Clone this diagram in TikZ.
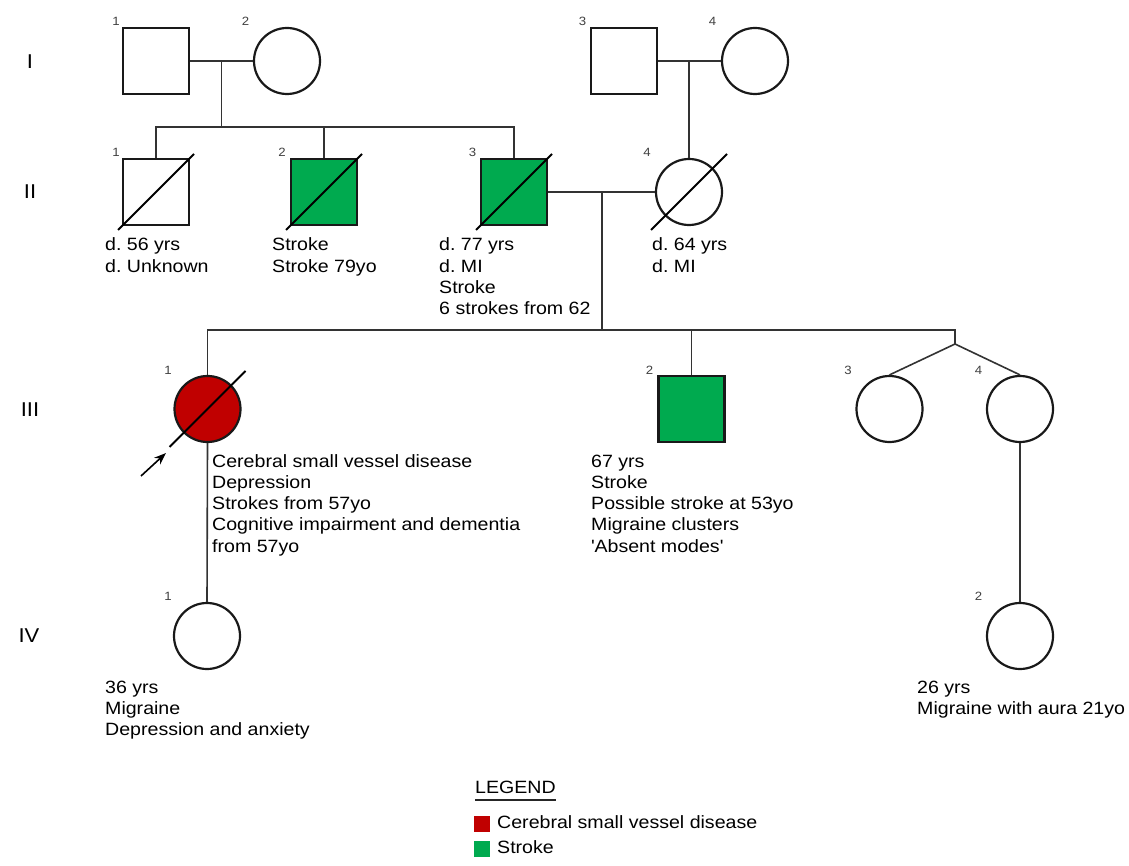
\documentclass[tikz,border=0pt]{standalone}
\usepackage{fontspec}
\setmainfont{Liberation Sans}[FakeStretch=1.1]
\usetikzlibrary{arrows.meta}
\definecolor{affgreen}{RGB}{0,170,79}
\definecolor{affred}{RGB}{192,0,0}
\newcommand\lbl[1]{\begin{tabular}[t]{@{}l@{}}#1\end{tabular}}
\frenchspacing
\begin{document}
\begin{tikzpicture}[x=1pt,y=-1pt,
  male/.style={draw=black!90, line width=2.2pt, rectangle, minimum size=66pt, inner sep=0pt},
  female/.style={draw=black!90, line width=2.2pt, circle, minimum size=66pt, inner sep=0pt},
  affstroke/.style={fill=affgreen},
  affcsvd/.style={fill=affred},
  link/.style={draw=black!80, line width=1.6pt},
  slash/.style={draw=black, line width=2pt},
  num/.style={font=\fontsize{12}{12}\selectfont, text=black!75, inner sep=0pt},
  gen/.style={font=\fontsize{20}{20}\selectfont, inner sep=0pt},
  info/.style={anchor=base west, inner sep=0pt, font=\fontsize{17.8}{21.3}\selectfont},
  legbox/.style={minimum size=16pt, inner sep=0pt, anchor=north west},
]
\fill[white] (0,0) rectangle (1129,866);
\useasboundingbox (0,0) rectangle (1129,866);

% generation labels
\node[gen] (gI) at (30,62) {I};
\node[gen] (gII) at (30,192) {II};
\node[gen] (gIII) at (30,410) {III};
\node[gen] (gIV) at (29,636) {IV};

% generation I
\node[male] (I1) at (156,61) {};
\node[female] (I2) at (287,61) {};
\node[male] (I3) at (624,61) {};
\node[female] (I4) at (755,61) {};
\node[num] (nI1) at (116,21.5) {1};
\node[num] (nI2) at (245.5,21.5) {2};
\node[num] (nI3) at (582.5,21.5) {3};
\node[num] (nI4) at (712.5,21.5) {4};

% generation II
\node[male] (II1) at (156,192) {};
\node[male,affstroke] (II2) at (324,192) {};
\node[male,affstroke] (II3) at (514,192) {};
\node[female] (II4) at (689,192) {};
\node[num] (nII1) at (116,152.5) {1};
\node[num] (nII2) at (282,152.5) {2};
\node[num] (nII3) at (472.5,152.5) {3};
\node[num] (nII4) at (647,152.5) {4};

% generation III
\node[female,affcsvd] (III1) at (207.5,409) {};
\node[male,affstroke] (III2) at (691.5,409) {};
\node[female] (III3) at (889.5,409) {};
\node[female] (III4) at (1020,409) {};
\node[num] (nIII1) at (168,370) {1};
\node[num] (nIII2) at (649.5,370) {2};
\node[num] (nIII3) at (848,370) {3};
\node[num] (nIII4) at (978.5,370) {4};

% generation IV
\node[female] (IV1) at (207,636) {};
\node[female] (IV2) at (1020,636) {};
\node[num] (nIV1) at (168,596.5) {1};
\node[num] (nIV2) at (978.5,596.5) {2};

% connectors generation I -> II
\coordinate (m1) at (221.5,61);
\coordinate (s1) at (221.5,127);
\draw[link] (I1.east) -- (I2.west);
\draw[link] (m1) -- (s1);
\draw[link] (II1.north) |- (s1);
\draw[link] (II3.north) |- (s1);
\draw[link] (II2.north) -- (II2.north |- s1);
\draw[link] (I3.east) -- (I4.west);
\draw[link] (II4.north) -- (II4.north |- I3.east);

% connectors generation II -> III
\coordinate (m3) at (602,192);
\coordinate (s3) at (602,330);
\coordinate (tw) at (955,344);
\draw[link] (II3.east) -- (II4.west);
\draw[link] (m3) -- (s3);
\draw[link] (III1.north) |- (tw |- s3) -- (tw);
\draw[link] (III2.north) -- (III2.north |- s3);
\draw[link] (tw) -- (III3.north);
\draw[link] (tw) -- (III4.north);

% connectors generation III -> IV
\draw[link] (III1.south) -- (IV1.north);
\draw[link] (III4.south) -- (IV2.north);

% deceased slashes
\draw[slash] ([shift={(-38,38)}]II1.center) -- ([shift={(38,-38)}]II1.center);
\draw[slash] ([shift={(-38,38)}]II2.center) -- ([shift={(38,-38)}]II2.center);
\draw[slash] ([shift={(-38,38)}]II3.center) -- ([shift={(38,-38)}]II3.center);
\draw[slash] ([shift={(-38,38)}]II4.center) -- ([shift={(38,-38)}]II4.center);
\draw[slash] ([shift={(-38,38)}]III1.center) -- ([shift={(38,-38)}]III1.center);

% proband arrow
\coordinate (pa) at (141,476);
\coordinate (pb) at (166,453);
\draw[line width=1.6pt, -{Stealth[length=12pt,width=9pt]}] (pa) -- (pb);

% information texts
\node[info] (tII1) at (105,251) {\lbl{d. 56 yrs\\d. Unknown}};
\node[info] (tII2) at (272,251) {\lbl{Stroke\\Stroke 79yo}};
\node[info] (tII3) at (439,251) {\lbl{d. 77 yrs\\d. MI\\Stroke\\6 strokes from 62}};
\node[info] (tII4) at (652,251) {\lbl{d. 64 yrs\\d. MI}};
\node[info] (tIII1) at (212,467) {\lbl{Cerebral small vessel disease\\Depression\\Strokes from 57yo\\Cognitive impairment and dementia\\from 57yo}};
\node[info] (tIII2) at (591,467) {\lbl{67 yrs\\Stroke\\Possible stroke at 53yo\\Migraine clusters\\\textquotesingle Absent modes\textquotesingle}};
\node[info] (tIV1) at (105,693) {\lbl{36 yrs\\Migraine\\Depression and anxiety}};
\node[info] (tIV2) at (917,693) {\lbl{26 yrs\\Migraine with aura 21yo}};

% legend
\node[info] (leg) at (475,793.5) {LEGEND};
\draw[line width=2.6pt, black!85] (leg.south west |- 0,800) -- (leg.south east |- 0,800);
\node[legbox, fill=affred] (lr) at (474,816) {};
\node[legbox, fill=affgreen] (lg) at (474,841) {};
\node[info] (lrt) at (497,828) {Cerebral small vessel disease};
\node[info] (lgt) at (497,853.5) {Stroke};
\end{tikzpicture}
\end{document}
